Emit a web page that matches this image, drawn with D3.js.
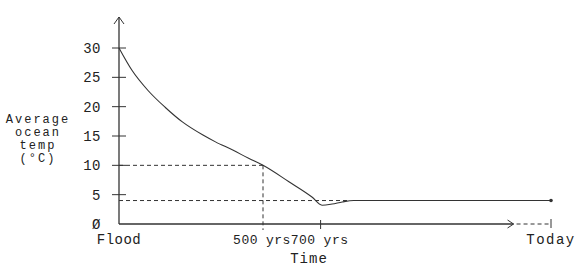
<!doctype html>
<html>
<head>
<meta charset="utf-8">
<title>Average ocean temp</title>
<script src="https://cdn.jsdelivr.net/npm/d3@7"></script>
<style>
  body { margin: 0; background: #fff; }
  text { font-family: "Liberation Mono", "DejaVu Sans Mono", monospace; fill: #222; }
</style>
</head>
<body>
<div id="chart"></div>
<script>
  // data
  const yTicks = [0, 5, 10, 15, 20, 25, 30];
  const years = [0, 45, 100, 160, 220, 290, 335, 395, 450, 500, 590, 670, 705, 740, 775, 815, 1500];
  const temps = [30, 26.2, 22.8, 19.9, 17.4, 15.2, 14.0, 12.6, 11.2, 10, 7.2, 4.6, 3.2, 3.4, 3.75, 4.0, 4.0];
  const timeLabels = ['Flood', '500', '700'];
  const timeYears = [0, 500, 700];
  const todayYear = 1500;
  const arrowYear = 1370;
  const refTemps = [10, 4];
  const refYears = [500, 795];
  const yLabel = ['Average', 'ocean', 'temp', '(\u00B0C)'];

  const width = 581, height = 273;
  const ink = '#333';

  const svg = d3.select('#chart').append('svg')
    .attr('width', width)
    .attr('height', height);

  const x = d3.scaleLinear().domain([0, todayYear]).range([119, 551]);
  const y = d3.scaleLinear().domain([0, 30]).range([224, 48]);

  // dashed reference lines
  refTemps.forEach((t, i) => {
    svg.append('line')
      .attr('x1', x(0)).attr('x2', x(refYears[i]))
      .attr('y1', y(t)).attr('y2', y(t))
      .attr('stroke', ink).attr('stroke-dasharray', '4,3');
  });
  svg.append('line')
    .attr('x1', x(500)).attr('x2', x(500))
    .attr('y1', y(10)).attr('y2', y(0) + 6)
    .attr('stroke', ink).attr('stroke-dasharray', '4,3');

  // y axis with arrow
  const axisTop = y(30) - 31;
  svg.append('line')
    .attr('x1', x(0)).attr('x2', x(0))
    .attr('y1', y(0)).attr('y2', axisTop)
    .attr('stroke', ink).attr('stroke-width', 1.3);
  svg.append('path')
    .attr('d', `M${x(0) - 5},${axisTop + 7}L${x(0)},${axisTop}L${x(0) + 5},${axisTop + 7}`)
    .attr('fill', 'none').attr('stroke', ink);

  svg.selectAll('.ytick').data(yTicks.filter(d => d > 0)).join('line')
    .attr('x1', x(0) - 7).attr('x2', x(0) + 7)
    .attr('y1', d => y(d)).attr('y2', d => y(d))
    .attr('stroke', ink);

  svg.selectAll('.ylab').data(yTicks).join('text')
    .attr('x', 101)
    .attr('y', d => y(d) + 5)
    .attr('text-anchor', 'end')
    .attr('font-size', 14)
    .attr('letter-spacing', 0.5)
    .text(d => d === 0 ? '\u00D8' : d);

  // x axis with arrow, dashed to today
  const axY = y(0);
  svg.append('line')
    .attr('x1', x(0)).attr('x2', x(arrowYear))
    .attr('y1', axY).attr('y2', axY)
    .attr('stroke', ink).attr('stroke-width', 1.3);
  svg.append('path')
    .attr('d', `M${x(arrowYear) - 6},${axY - 4}L${x(arrowYear)},${axY}L${x(arrowYear) - 6},${axY + 4}`)
    .attr('fill', 'none').attr('stroke', ink);
  svg.append('line')
    .attr('x1', x(arrowYear) + 3).attr('x2', x(todayYear))
    .attr('y1', axY).attr('y2', axY)
    .attr('stroke', ink).attr('stroke-dasharray', '4,3');
  svg.append('line')
    .attr('x1', x(todayYear)).attr('x2', x(todayYear))
    .attr('y1', axY - 5).attr('y2', axY + 4)
    .attr('stroke', ink);
  svg.append('line')
    .attr('x1', x(700)).attr('x2', x(700))
    .attr('y1', axY - 4).attr('y2', axY + 5)
    .attr('stroke', ink);

  // time labels
  svg.append('text')
    .attr('x', x(0)).attr('y', 244)
    .attr('text-anchor', 'middle')
    .attr('font-size', 14).attr('letter-spacing', 0.5)
    .text(timeLabels[0]);
  timeYears.slice(1).forEach((yr, i) => {
    svg.append('text')
      .attr('x', x(yr) - 5).attr('y', 244)
      .attr('text-anchor', 'end')
      .attr('font-size', 13).attr('letter-spacing', 0.5)
      .text(timeLabels[i + 1]);
    svg.append('text')
      .attr('x', x(yr) + 3).attr('y', 244)
      .attr('font-size', 13).attr('letter-spacing', 0.5)
      .text('yrs');
  });
  svg.append('text')
    .attr('x', x(todayYear)).attr('y', 244)
    .attr('text-anchor', 'middle')
    .attr('font-size', 14).attr('letter-spacing', 1.5)
    .text('Today');
  svg.append('text')
    .attr('x', 309).attr('y', 263)
    .attr('text-anchor', 'middle')
    .attr('font-size', 14).attr('letter-spacing', 1)
    .text('Time');

  // y label
  svg.selectAll('.ytitle').data(yLabel).join('text')
    .attr('x', 38)
    .attr('y', (d, i) => 123 + i * 13)
    .attr('text-anchor', 'middle')
    .attr('font-size', 12).attr('letter-spacing', 2)
    .text(d => d);

  // the curve
  const pts = years.map((yr, i) => [yr, temps[i]]);
  const line = d3.line()
    .x(d => x(d[0]))
    .y(d => y(d[1]))
    .curve(d3.curveMonotoneX);
  svg.append('path')
    .attr('d', line(pts))
    .attr('fill', 'none')
    .attr('stroke', ink)
    .attr('stroke-width', 1.1);
  svg.append('circle')
    .attr('cx', x(todayYear)).attr('cy', y(4))
    .attr('r', 1.8).attr('fill', ink);
</script>
</body>
</html>
